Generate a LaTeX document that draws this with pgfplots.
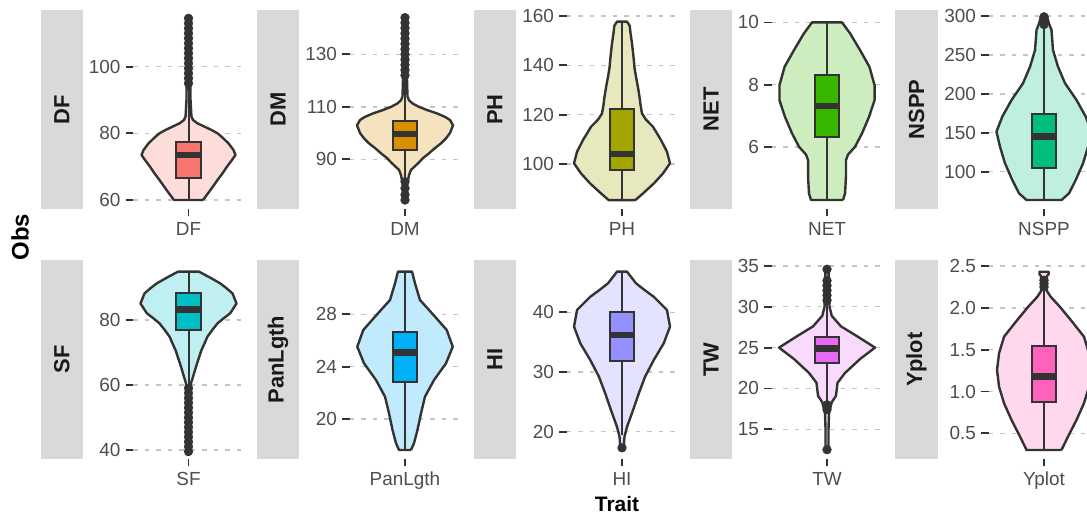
\documentclass[border=0pt]{standalone}
\usepackage{fontspec}
\setmainfont{Liberation Sans}
\usepackage{pgfplots}
\usepackage{pgfplotstable}
\pgfplotsset{compat=1.18}
\usepgfplotslibrary{statistics}

\definecolor{cDF}{HTML}{F8766D}
\definecolor{cDM}{HTML}{D89000}
\definecolor{cPH}{HTML}{A3A500}
\definecolor{cNET}{HTML}{39B600}
\definecolor{cNSPP}{HTML}{00BF7D}
\definecolor{cSF}{HTML}{00BFC4}
\definecolor{cPan}{HTML}{00B0F6}
\definecolor{cHI}{HTML}{9590FF}
\definecolor{cTW}{HTML}{E76BF3}
\definecolor{cY}{HTML}{FF62BC}
\definecolor{gray10}{HTML}{1A1A1A}
\definecolor{gray20}{HTML}{333333}
\definecolor{gray30}{HTML}{4D4D4D}
\definecolor{stripgray}{HTML}{D9D9D9}
\definecolor{gridgray}{HTML}{C4C4C4}

\pgfplotsset{
  vpanel/.style={
    scale only axis, width=111bp, height=199bp, anchor=south west,
    xmin=0.4, xmax=1.6, xtick={1},
    axis line style={draw=none},
    tick align=outside, major tick length=7.5bp,
    ytick pos=left, xtick pos=bottom,
    tick style={draw=gray20, line width=1.8bp},
    ymajorgrids, xmajorgrids=false,
    grid style={gridgray, line width=1.4bp, dash pattern=on 4.5bp off 7bp},
    ticklabel style={font=\fontsize{19}{20}\selectfont, text=gray30},
    yticklabel style={anchor=east, inner sep=0pt, xshift=-4.8bp},
    xticklabel style={anchor=north, inner sep=0pt, yshift=-5.5bp},
    clip=false,
    /pgf/number format/assume math mode=true,
    boxplot/draw direction=y,
  },
  vio/.style={fill=#1!25!white, draw=gray20, line width=2.4bp, line join=round},
  bx/.style={fill=#1, draw=gray20, line width=2bp,
    boxplot/every median/.style={line width=6.5bp}},
  outl/.style={only marks, mark=*, mark size=4.4bp, mark options={fill=gray20, draw=gray20}},
}

% violin outlines: d = signed half-width (right side upward, left side downward)
\pgfplotstableread{
d y
0.157 60
0.211 62
0.263 64
0.314 66
0.368 68
0.416 70
0.470 72
0.508 73.5
0.486 75
0.432 77
0.357 79
0.314 80
0.249 81
0.173 82
0.097 83
0.049 84
0.032 85
0.022 90
0.019 100
0.016 110
0.011 115
-0.011 115
-0.016 110
-0.019 100
-0.022 90
-0.032 85
-0.049 84
-0.097 83
-0.173 82
-0.249 81
-0.314 80
-0.357 79
-0.432 77
-0.486 75
-0.508 73.5
-0.470 72
-0.416 70
-0.368 68
-0.314 66
-0.263 64
-0.211 62
-0.157 60
0.157 60
}\tDF

\pgfplotstableread{
d y
0.016 74.5
0.022 80
0.043 84
0.065 86
0.141 88.5
0.195 90.5
0.259 92.3
0.314 94
0.389 96.1
0.443 98
0.486 100
0.519 103
0.486 105
0.432 106.2
0.346 107.5
0.238 108.8
0.151 110
0.086 111.2
0.043 112.5
0.027 114
0.022 120
0.022 130
0.016 144.3
-0.016 144.3
-0.022 130
-0.022 120
-0.027 114
-0.043 112.5
-0.086 111.2
-0.151 110
-0.238 108.8
-0.346 107.5
-0.432 106.2
-0.486 105
-0.519 103
-0.486 100
-0.443 98
-0.389 96.1
-0.314 94
-0.259 92.3
-0.195 90.5
-0.141 88.5
-0.065 86
-0.043 84
-0.022 80
-0.016 74.5
0.016 74.5
}\tDM

\pgfplotstableread{
d y
0.144 85.4
0.227 88.1
0.346 92.2
0.443 96.2
0.519 100.3
0.486 105
0.422 109.7
0.335 115.1
0.259 118
0.216 120.5
0.200 124
0.189 127.3
0.173 131
0.151 135.4
0.135 139
0.126 142.8
0.108 148.9
0.092 153
0.083 156
0.054 157.7
-0.054 157.7
-0.083 156
-0.092 153
-0.108 148.9
-0.126 142.8
-0.135 139
-0.151 135.4
-0.173 131
-0.189 127.3
-0.200 124
-0.216 120.5
-0.259 118
-0.335 115.1
-0.422 109.7
-0.486 105
-0.519 100.3
-0.443 96.2
-0.346 92.2
-0.227 88.1
-0.144 85.4
0.144 85.4
}\tPH

\pgfplotstableread{
d y
0.173 4.29
0.195 4.5
0.205 5.04
0.205 5.57
0.227 5.75
0.303 6.0
0.378 6.43
0.454 6.96
0.514 7.5
0.514 7.98
0.459 8.57
0.357 9.11
0.249 9.65
0.162 10.0
-0.162 10.0
-0.249 9.65
-0.357 9.11
-0.459 8.57
-0.514 7.98
-0.514 7.5
-0.454 6.96
-0.378 6.43
-0.303 6.0
-0.227 5.75
-0.205 5.57
-0.205 5.04
-0.195 4.5
-0.173 4.29
0.173 4.29
}\tNET

\pgfplotstableread{
d y
0.189 63.6
0.270 72.2
0.343 89.3
0.422 110.8
0.476 132.1
0.514 151.4
0.451 170.7
0.351 192.1
0.227 213.6
0.151 234.9
0.097 256.3
0.081 282
0.054 290
0.032 300
-0.032 300
-0.054 290
-0.081 282
-0.097 256.3
-0.151 234.9
-0.227 213.6
-0.351 192.1
-0.451 170.7
-0.514 151.4
-0.476 132.1
-0.422 110.8
-0.343 89.3
-0.270 72.2
-0.189 63.6
0.189 63.6
}\tNSPP

\pgfplotstableread{
d y
0.016 38.5
0.016 45
0.019 55
0.022 58
0.027 60.5
0.054 63
0.081 65.6
0.108 68
0.141 70.8
0.173 72.8
0.205 74.9
0.259 77
0.314 79
0.378 80.5
0.451 82.1
0.519 85.1
0.476 88.2
0.411 89.8
0.343 91.3
0.238 93
0.114 94.9
-0.114 94.9
-0.238 93
-0.343 91.3
-0.411 89.8
-0.476 88.2
-0.519 85.1
-0.451 82.1
-0.378 80.5
-0.314 79
-0.259 77
-0.205 74.9
-0.173 72.8
-0.141 70.8
-0.108 68
-0.081 65.6
-0.054 63
-0.027 60.5
-0.022 58
-0.019 55
-0.016 45
-0.016 38.5
0.016 38.5
}\tSF

\pgfplotstableread{
d y
0.065 17.63
0.097 18.14
0.135 19.16
0.173 20.43
0.216 21.7
0.314 22.98
0.443 24.25
0.516 25.52
0.451 26.8
0.324 27.82
0.238 28.5
0.162 29.09
0.108 30.37
0.076 31.26
-0.076 31.26
-0.108 30.37
-0.162 29.09
-0.238 28.5
-0.324 27.82
-0.451 26.8
-0.516 25.52
-0.443 24.25
-0.314 22.98
-0.216 21.7
-0.173 20.43
-0.135 19.16
-0.097 18.14
-0.065 17.63
0.065 17.63
}\tPan

\pgfplotstableread{
d y
0.016 16.9
0.027 19.2
0.054 20.8
0.119 23.6
0.181 26.4
0.249 29.2
0.343 32.0
0.451 34.8
0.519 37.6
0.486 40.39
0.343 42.6
0.238 43.8
0.151 44.86
0.054 46.8
-0.054 46.8
-0.151 44.86
-0.238 43.8
-0.343 42.6
-0.486 40.39
-0.519 37.6
-0.451 34.8
-0.343 32.0
-0.249 29.2
-0.181 26.4
-0.119 23.6
-0.054 20.8
-0.027 19.2
-0.016 16.9
0.016 16.9
}\tHI

\pgfplotstableread{
d y
0.016 12.5
0.016 15
0.022 17
0.051 18.3
0.097 19.1
0.114 20.7
0.195 21.9
0.357 23.6
0.519 25
0.324 26.4
0.151 27.6
0.051 28.9
0.027 30
0.022 32
0.016 34.6
-0.016 34.6
-0.022 32
-0.027 30
-0.051 28.9
-0.151 27.6
-0.324 26.4
-0.519 25
-0.357 23.6
-0.195 21.9
-0.114 20.7
-0.097 19.1
-0.051 18.3
-0.022 17
-0.016 15
-0.016 12.5
0.016 12.5
}\tTW

\pgfplotstableread{
d y
0.189 0.301
0.259 0.46
0.351 0.659
0.432 0.859
0.486 1.057
0.508 1.257
0.486 1.457
0.432 1.655
0.289 1.855
0.171 2.013
0.072 2.133
0.032 2.2
0.032 2.38
0.049 2.40
0.049 2.432
-0.049 2.432
-0.049 2.40
-0.032 2.38
-0.032 2.2
-0.072 2.133
-0.171 2.013
-0.289 1.855
-0.432 1.655
-0.486 1.457
-0.508 1.257
-0.486 1.057
-0.432 0.859
-0.351 0.659
-0.259 0.46
-0.189 0.301
0.189 0.301
}\tY

\begin{document}
\begin{tikzpicture}[x=1bp,y=1bp]

% strips
\foreach \xa/\xb in {41/82.5, 257/299, 474/515.5, 690/732, 895/938} {
  \fill[stripgray] (\xa,308) rectangle (\xb,507);
  \fill[stripgray] (\xa,58) rectangle (\xb,257);
}
\tikzset{striplab/.style={rotate=90, font=\bfseries\fontsize{22}{22}\selectfont, text=gray10}}
\node[striplab] at (61.75,407.5) {DF};
\node[striplab] at (278,407.5) {DM};
\node[striplab] at (494.75,407.5) {PH};
\node[striplab] at (711,407.5) {NET};
\node[striplab] at (916.5,407.5) {NSPP};
\node[striplab] at (61.75,157.5) {SF};
\node[striplab] at (278,157.5) {PanLgth};
\node[striplab] at (494.75,157.5) {HI};
\node[striplab] at (711,157.5) {TW};
\node[striplab] at (916.5,157.5) {Yplot};

\node[rotate=90, font=\bfseries\fontsize{24}{24}\selectfont, text=black] at (20,280) {Obs};
\node[anchor=base, inner sep=0pt, font=\bfseries\fontsize{21}{21}\selectfont, text=black] at (617,5) {Trait};

% ---- DF
\begin{axis}[vpanel, at={(133bp,308bp)}, ymin=57.3, ymax=117, ytick={60,80,100}, xticklabels={DF}]
\addplot[vio=cDF] table[x expr=1+\thisrow{d}, y=y] {\tDF};
\addplot[bx=cDF, boxplot prepared={draw position=1, box extend=0.26, whisker extend=0,
  lower whisker=60, lower quartile=66.5, median=73.5, upper quartile=77.5, upper whisker=94}] coordinates {};
\addplot[outl] coordinates {(1,95) (1,96.5) (1,98) (1,99.5) (1,101) (1,102.5) (1,104) (1,105.5) (1,107) (1,108.5) (1,110) (1,111.5) (1,113) (1,114.5)};
\end{axis}

% ---- DM
\begin{axis}[vpanel, at={(349.5bp,308bp)}, ymin=71.1, ymax=146.9, ytick={90,110,130}, xticklabels={DM}]
\addplot[vio=cDM] table[x expr=1+\thisrow{d}, y=y] {\tDM};
\addplot[bx=cDM, boxplot prepared={draw position=1, box extend=0.26, whisker extend=0,
  lower whisker=77, lower quartile=93.5, median=99.6, upper quartile=104.6, upper whisker=121}] coordinates {};
\addplot[outl] coordinates {(1,122) (1,124) (1,126) (1,128) (1,130) (1,132) (1,134) (1,136) (1,138) (1,140) (1,142) (1,144) (1,74.5) (1,76.5) (1,79) (1,81.5)};
\end{axis}

% ---- PH
\begin{axis}[vpanel, at={(566.5bp,308bp)}, ymin=81.8, ymax=162.4, ytick={100,120,140,160}, xticklabels={PH}]
\addplot[vio=cPH] table[x expr=1+\thisrow{d}, y=y] {\tPH};
\addplot[bx=cPH, boxplot prepared={draw position=1, box extend=0.26, whisker extend=0,
  lower whisker=85.4, lower quartile=97.6, median=104.1, upper quartile=122.3, upper whisker=157.7}] coordinates {};
\end{axis}

% ---- NET
\begin{axis}[vpanel, at={(771.5bp,308bp)}, ymin=4.0, ymax=10.4, ytick={6,8,10}, xticklabels={NET}]
\addplot[vio=cNET] table[x expr=1+\thisrow{d}, y=y] {\tNET};
\addplot[bx=cNET, boxplot prepared={draw position=1, box extend=0.26, whisker extend=0,
  lower whisker=4.29, lower quartile=6.32, median=7.32, upper quartile=8.31, upper whisker=10}] coordinates {};
\end{axis}

% ---- NSPP
\begin{axis}[vpanel, at={(988.5bp,308bp)}, ymin=52.1, ymax=307.7, ytick={100,150,200,250,300}, xticklabels={NSPP}]
\addplot[vio=cNSPP] table[x expr=1+\thisrow{d}, y=y] {\tNSPP};
\addplot[bx=cNSPP, boxplot prepared={draw position=1, box extend=0.26, whisker extend=0,
  lower whisker=63.6, lower quartile=105.1, median=145, upper quartile=174.1, upper whisker=285}] coordinates {};
\addplot[outl] coordinates {(1,289) (1,294) (1,299)};
\end{axis}

% ---- SF
\begin{axis}[vpanel, at={(133bp,58bp)}, ymin=37.2, ymax=98.5, ytick={40,60,80}, xticklabels={SF}]
\addplot[vio=cSF] table[x expr=1+\thisrow{d}, y=y] {\tSF};
\addplot[bx=cSF, boxplot prepared={draw position=1, box extend=0.26, whisker extend=0,
  lower whisker=60, lower quartile=76.9, median=83.3, upper quartile=88.2, upper whisker=94.9}] coordinates {};
\addplot[outl] coordinates {(1,39.5) (1,41) (1,42.5) (1,44) (1,45.5) (1,47) (1,48.5) (1,50) (1,51.5) (1,53) (1,54.5) (1,56) (1,57.5) (1,59)};
\end{axis}

% ---- PanLgth
\begin{axis}[vpanel, at={(349.5bp,58bp)}, ymin=16.94, ymax=32.15, ytick={20,24,28}, xticklabels={PanLgth}]
\addplot[vio=cPan] table[x expr=1+\thisrow{d}, y=y] {\tPan};
\addplot[bx=cPan, boxplot prepared={draw position=1, box extend=0.26, whisker extend=0,
  lower whisker=17.63, lower quartile=22.85, median=25.07, upper quartile=26.62, upper whisker=31.26}] coordinates {};
\end{axis}

% ---- HI
\begin{axis}[vpanel, at={(566.5bp,58bp)}, ymin=15.43, ymax=48.76, ytick={20,30,40}, xticklabels={HI}]
\addplot[vio=cHI] table[x expr=1+\thisrow{d}, y=y] {\tHI};
\addplot[bx=cHI, boxplot prepared={draw position=1, box extend=0.26, whisker extend=0,
  lower whisker=19.5, lower quartile=31.9, median=36.2, upper quartile=40, upper whisker=46.8}] coordinates {};
\addplot[outl] coordinates {(1,17.3)};
\end{axis}

% ---- TW
\begin{axis}[vpanel, at={(771.5bp,58bp)}, ymin=11.36, ymax=35.73, ytick={15,20,25,30,35}, xticklabels={TW}]
\addplot[vio=cTW] table[x expr=1+\thisrow{d}, y=y] {\tTW};
\addplot[bx=cTW, boxplot prepared={draw position=1, box extend=0.26, whisker extend=0,
  lower whisker=18.4, lower quartile=23.16, median=24.9, upper quartile=26.35, upper whisker=30.5}] coordinates {};
\addplot[outl] coordinates {(1,30.8) (1,31.4) (1,32) (1,32.6) (1,33.2) (1,34.6) (1,17.4) (1,18) (1,12.5)};
\end{axis}

% ---- Yplot
\begin{axis}[vpanel, at={(988.5bp,58bp)}, ymin=0.193, ymax=2.572, ytick={0.5,1,1.5,2,2.5}, yticklabels={0.5,1.0,1.5,2.0,2.5}, xticklabels={Yplot}]
\addplot[vio=cY] table[x expr=1+\thisrow{d}, y=y] {\tY};
\addplot[bx=cY, boxplot prepared={draw position=1, box extend=0.26, whisker extend=0,
  lower whisker=0.301, lower quartile=0.878, median=1.177, upper quartile=1.547, upper whisker=2.2}] coordinates {};
\addplot[outl] coordinates {(1,2.25) (1,2.29) (1,2.33)};
\end{axis}

\pgfresetboundingbox
\useasboundingbox (0,0) rectangle (1087,517);
\end{tikzpicture}
\end{document}
